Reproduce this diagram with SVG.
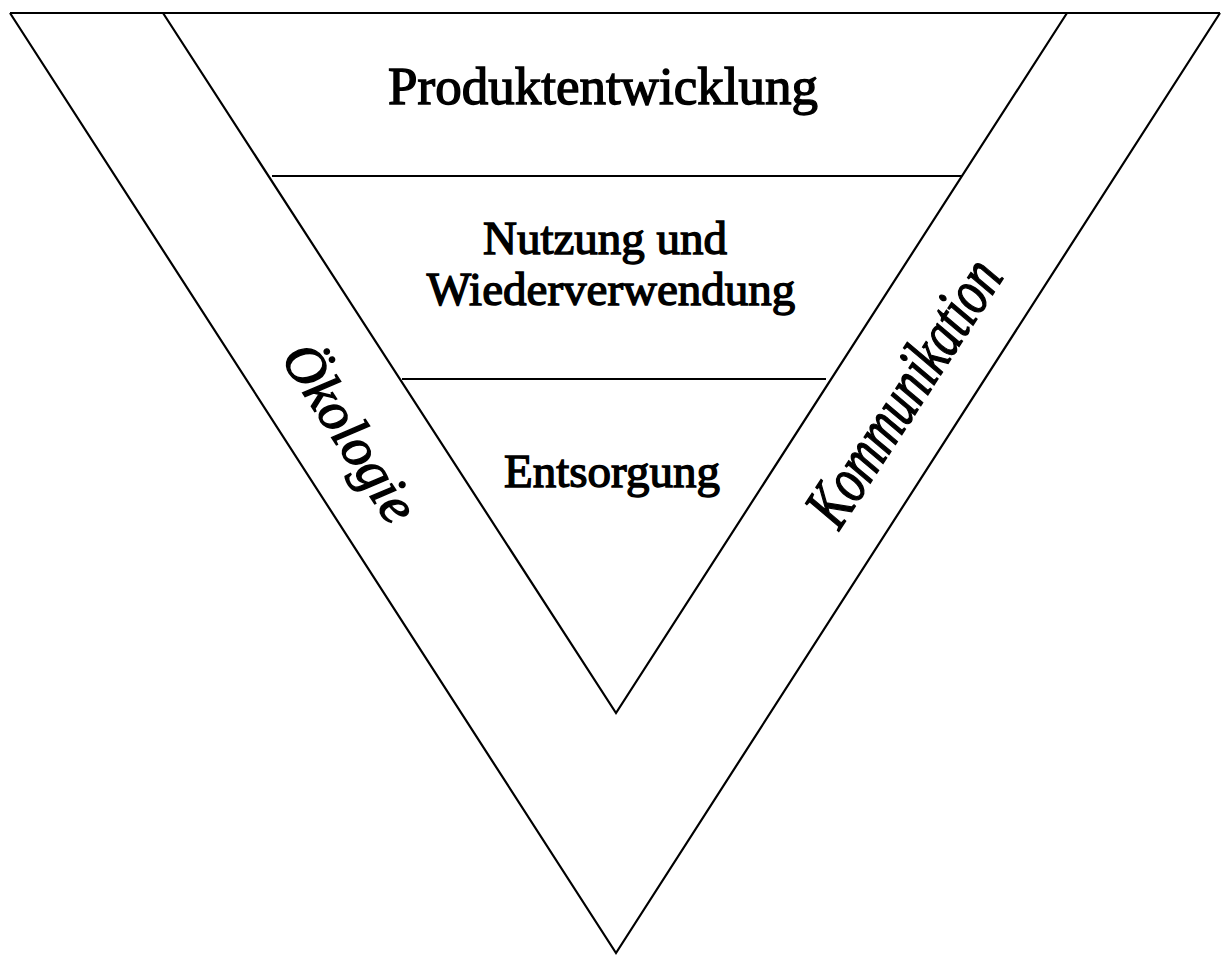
<svg xmlns="http://www.w3.org/2000/svg" width="1221" height="958" viewBox="0 0 1221 958">
  <style>
    .edge { fill: none; stroke: #000; stroke-width: 2.2; stroke-linejoin: miter; }
    .lbl { font-family: "Liberation Serif", "Times New Roman", serif; fill: #000; stroke: #000; stroke-width: 1.4; text-anchor: middle; }
    .title { font-size: 53px; }
    .stage { font-size: 47px; }
    .band { font-style: italic; }
  </style>
  <rect width="1221" height="958" fill="#fff"/>

  <g id="connectors">
    <!-- outer V -->
    <polyline class="edge" points="10,13 1220,13"/>
    <polyline class="edge" points="10,13 616,953 1220,13"/>
    <!-- inner V -->
    <polyline class="edge" points="163,13 616,713 1067,13"/>
    <!-- stage dividers -->
    <line class="edge" x1="272" y1="176" x2="962" y2="176"/>
    <line class="edge" x1="402" y1="379" x2="826" y2="379"/>
  </g>

  <g id="produktentwicklung">
    <text class="lbl title" x="603" y="104">Produktentwicklung</text>
  </g>
  <g id="nutzung">
    <text class="lbl stage" x="605" y="254">Nutzung und</text>
    <text class="lbl stage" x="611" y="305">Wiederverwendung</text>
  </g>
  <g id="entsorgung">
    <text class="lbl stage" x="612" y="487">Entsorgung</text>
  </g>
  <g id="oekologie">
    <text class="lbl band" font-size="55" transform="translate(350,433) rotate(57)" y="18">Ökologie</text>
  </g>
  <g id="kommunikation">
    <text class="lbl band" font-size="66" transform="translate(905,393) rotate(-57) scale(0.72,1)" y="20">Kommunikation</text>
  </g>
</svg>
